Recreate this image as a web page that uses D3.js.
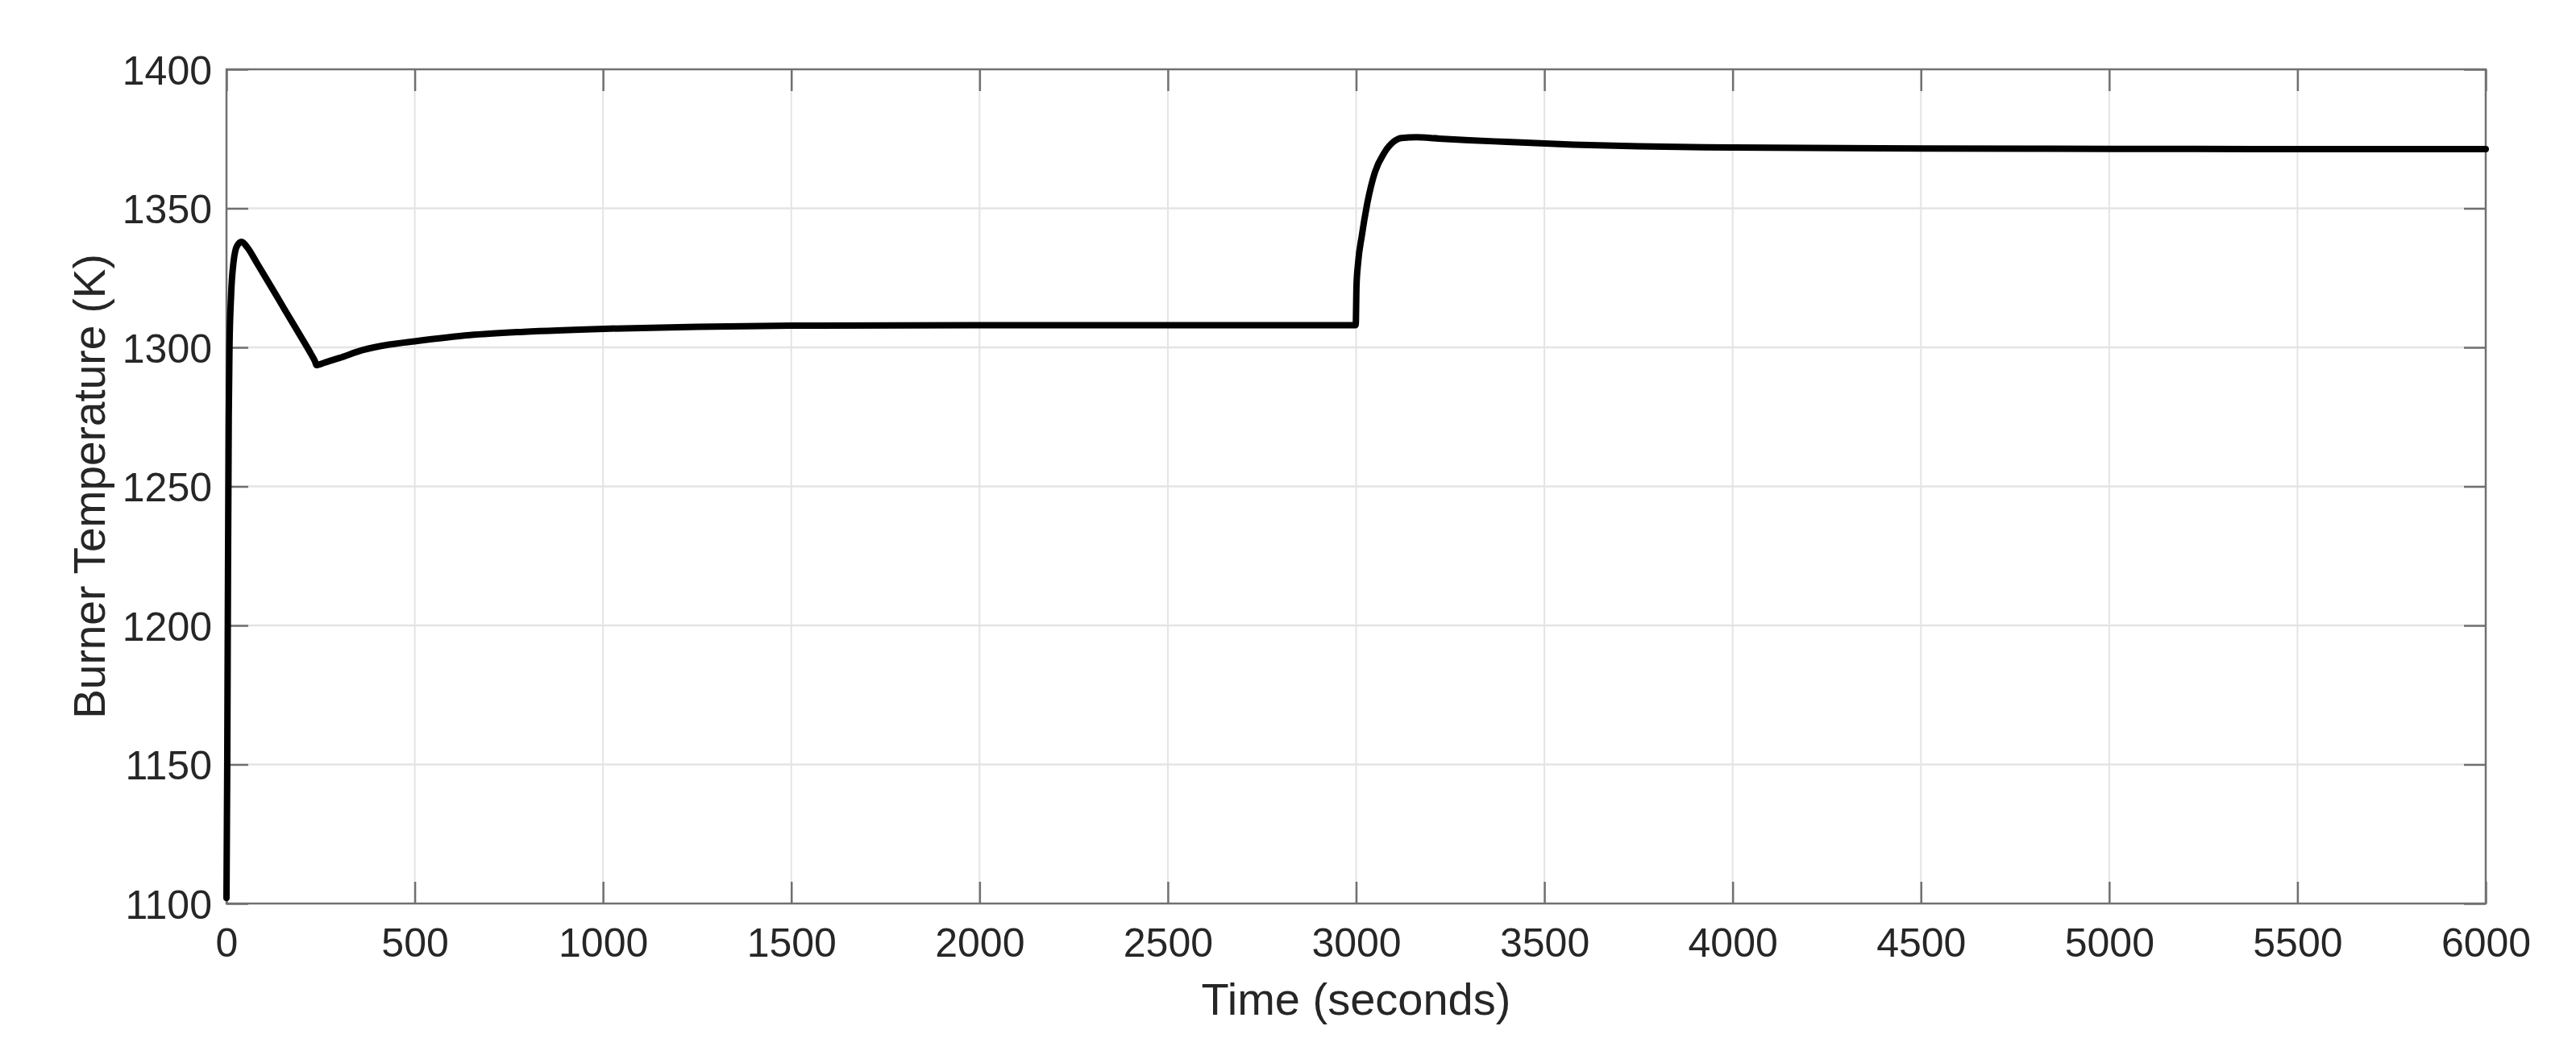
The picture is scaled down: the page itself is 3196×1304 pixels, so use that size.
<!DOCTYPE html>
<html>
<head>
<meta charset="utf-8">
<script src="https://cdn.jsdelivr.net/npm/d3@7"></script>
<style>
  html, body { margin: 0; padding: 0; background: #ffffff; }
  svg { display: block; }
</style>
</head>
<body>
<svg id="chart" width="3196" height="1304"></svg>
<script>
// ---- Data ----
const timeSeconds = [
  0, 2, 4, 6, 8, 12, 19, 28, 40, 55, 80, 120, 154, 200, 225, 235, 239, 245, 260,
  300, 361, 432, 500, 646, 789, 1004, 1250, 1500, 2000, 2500, 2999,
  3001, 3005, 3015, 3030, 3050, 3075, 3100, 3120, 3160, 3220, 3300, 3400,
  3577, 3750, 4000, 4500, 5000, 5500, 6000
];
const burnerTempK = [
  1102, 1150, 1220, 1275, 1300, 1318, 1331, 1336.5, 1338, 1336, 1330.5, 1321.5, 1313.7, 1303.3, 1297.5, 1295, 1293.6, 1293.8, 1294.5,
  1296.2, 1299, 1301, 1302.2, 1304.4, 1305.6, 1306.7, 1307.4, 1307.8, 1308, 1308, 1308,
  1322, 1330, 1340, 1352, 1363, 1370, 1374, 1375.3, 1375.6, 1375.1, 1374.5, 1373.9,
  1372.9, 1372.3, 1371.9, 1371.5, 1371.4, 1371.3, 1371.3
];
const xTicks = [0, 500, 1000, 1500, 2000, 2500, 3000, 3500, 4000, 4500, 5000, 5500, 6000];
const yTicks = [1100, 1150, 1200, 1250, 1300, 1350, 1400];
const xLabel = "Time (seconds)";
const yLabel = "Burner Temperature (K)";

// ---- Layout ----
const W = 3196, H = 1304;
const margin = { left: 281, top: 86, right: 112, bottom: 183 };
const iw = W - margin.left - margin.right;
const ih = H - margin.top - margin.bottom;

const svg = d3.select("#chart");
const g = svg.append("g").attr("transform", `translate(${margin.left},${margin.top})`);

const x = d3.scaleLinear().domain([0, 6000]).range([0, iw]);
const y = d3.scaleLinear().domain([1100, 1400]).range([ih, 0]);

const font = "'Liberation Sans', Arial, Helvetica, sans-serif";
const axisColor = "#707070";
const textColor = "#262626";
const gridColor = "#e4e4e4";
const tickLen = 27;

// grid
g.append("g").selectAll("line.vg").data(xTicks.slice(1, -1)).join("line")
  .attr("x1", d => x(d)).attr("x2", d => x(d))
  .attr("y1", 0).attr("y2", ih)
  .attr("stroke", gridColor).attr("stroke-width", 2);
g.append("g").selectAll("line.hg").data(yTicks.slice(1, -1)).join("line")
  .attr("x1", 0).attr("x2", iw)
  .attr("y1", d => y(d)).attr("y2", d => y(d))
  .attr("stroke", gridColor).attr("stroke-width", 2.5);

// axes (MATLAB-like, ticks inside, on all four sides)
function styleAxis(sel, showText) {
  sel.select(".domain").remove();
  sel.selectAll(".tick line").attr("stroke", axisColor).attr("stroke-width", 2.5);
  sel.selectAll(".tick text")
    .attr("fill", textColor)
    .style("font-family", font)
    .style("font-size", "50px")
    .style("display", showText ? null : "none");
}

const xBottom = g.append("g").attr("transform", `translate(0,${ih})`)
  .call(d3.axisBottom(x).tickValues(xTicks).tickFormat(d3.format("d"))
    .tickSizeInner(-tickLen).tickSizeOuter(0));
styleAxis(xBottom, true);
xBottom.selectAll(".tick text").attr("dy", "0.71em").attr("y", 30);

const xTop = g.append("g")
  .call(d3.axisTop(x).tickValues(xTicks).tickSizeInner(-tickLen).tickSizeOuter(0));
styleAxis(xTop, false);

const yLeft = g.append("g")
  .call(d3.axisLeft(y).tickValues(yTicks).tickFormat(d3.format("d"))
    .tickSizeInner(-tickLen).tickSizeOuter(0));
styleAxis(yLeft, true);
yLeft.selectAll(".tick text").attr("x", -18).attr("dy", "0.36em");

const yRight = g.append("g").attr("transform", `translate(${iw},0)`)
  .call(d3.axisRight(y).tickValues(yTicks).tickSizeInner(-tickLen).tickSizeOuter(0));
styleAxis(yRight, false);

// box
g.append("rect").attr("x", 0).attr("y", 0).attr("width", iw).attr("height", ih)
  .attr("fill", "none").attr("stroke", axisColor).attr("stroke-width", 2.5);

// data line
const pts = timeSeconds.map((t, i) => [t, burnerTempK[i]]);
const line = d3.line().x(d => x(d[0])).y(d => y(d[1])).curve(d3.curveMonotoneX);
g.append("path").datum(pts)
  .attr("d", line)
  .attr("fill", "none")
  .attr("stroke", "#000000")
  .attr("stroke-width", 8)
  .attr("stroke-linejoin", "round")
  .attr("stroke-linecap", "round");

// labels
svg.append("text")
  .attr("x", margin.left + iw / 2).attr("y", 1259)
  .attr("text-anchor", "middle")
  .attr("fill", textColor)
  .style("font-family", font).style("font-size", "56px")
  .text(xLabel);

svg.append("text")
  .attr("transform", `translate(130,${margin.top + ih / 2}) rotate(-90)`)
  .attr("text-anchor", "middle")
  .attr("fill", textColor)
  .style("font-family", font).style("font-size", "55px")
  .text(yLabel);
</script>
</body>
</html>
